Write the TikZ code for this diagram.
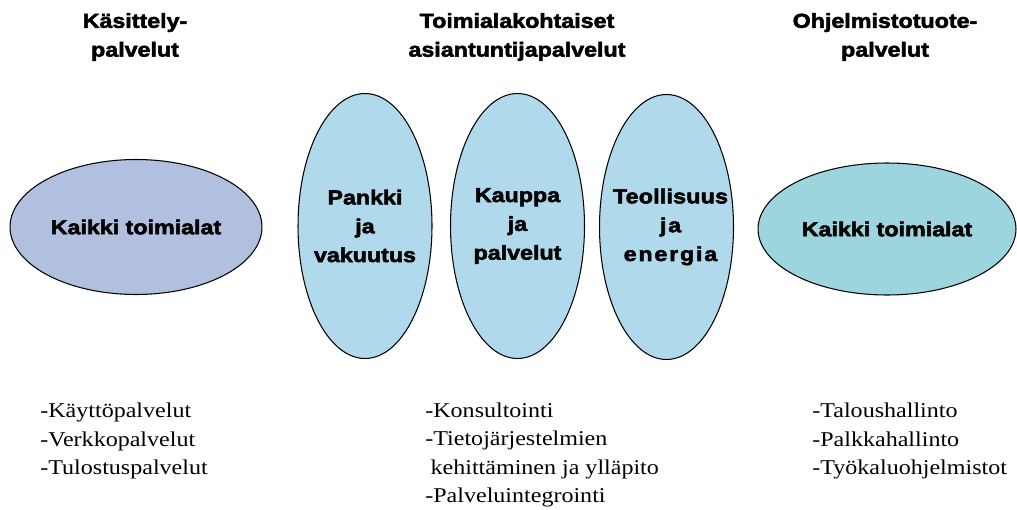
\documentclass[tikz,border=0pt]{standalone}
\usepackage{fontspec}
\usetikzlibrary{shapes.geometric}
\newfontfamily\headfont[FakeStretch=1.15,FakeBold=2.6]{Liberation Sans Bold}
\newfontfamily\listfont[FakeStretch=1.14]{Liberation Serif}
\definecolor{lilac}{RGB}{176,192,222}
\definecolor{sky}{RGB}{176,218,236}
\definecolor{aqua}{RGB}{156,213,222}

\begin{document}
\begin{tikzpicture}[x=0.02cm, y=-0.02cm,
	head/.style={align=center, font=\headfont\fontsize{11.5}{16.4}\selectfont},
	wide/.style={ellipse, draw, line width=0.6pt, inner sep=0pt},
	tall/.style={ellipse, draw, line width=0.6pt, minimum width=2.68cm, minimum height=5.3cm, inner sep=0pt, fill=sky},
	items/.style={align=left, anchor=west, inner sep=0pt, font=\listfont\fontsize{12}{16.2}\selectfont}]
	\useasboundingbox (0,0) rectangle (1017,510);

	\node [head] (H1) at (135,37) {Käsittely-\\palvelut};
	\node [head] (H2) at (517,37) {Toimialakohtaiset\\asiantuntijapalvelut};
	\node [head] (H3) at (885,37) {Ohjelmistotuote-\\palvelut};

	\node [wide, fill=lilac, minimum width=5.04cm, minimum height=2.7cm, head] (KL) at (136,227) {Kaikki toimialat};
	\node [tall] (PV) at (365,226) {};
	\node [tall] (KP) at (517.5,226) {};
	\node [tall] (TE) at (666.5,227) {};
	\node [wide, fill=aqua, minimum width=5.16cm, minimum height=2.64cm, head] (KR) at (887,229) {Kaikki toimialat};

	\node [head] (PVt) at (PV) {Pankki\\ja\\vakuutus};
	\node [head] (KPt) at (KP) {Kauppa\\ja\\palvelut};
	\node [head] (TEt) at ([xshift=0.08cm]TE.center) {\addfontfeature{LetterSpace=1}Teollisuus\\\addfontfeature{LetterSpace=9}ja\\\addfontfeature{LetterSpace=9}energia};

	\node [items] (L1) at (40,441) {-Käyttöpalvelut\\-Verkkopalvelut\\-Tulostuspalvelut};
	\node [items] (L2) at (425,455) {-Konsultointi\\-Tietojärjestelmien\\\hspace*{3pt}kehittäminen ja ylläpito\\-Palveluintegrointi};
	\node [items] (L3) at (812,441) {-Taloushallinto\\-Palkkahallinto\\-Työkaluohjelmistot};
\end{tikzpicture}
\end{document}
